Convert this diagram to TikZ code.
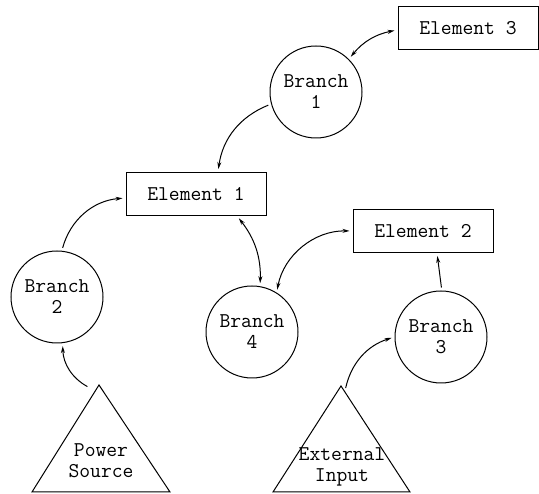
\documentclass[tikz,border=0pt]{standalone}
\usetikzlibrary{arrows.meta}
\tikzset{
  txt/.style={font=\ttfamily\fontsize{21}{21}\selectfont, align=center},
  elem/.style={txt, draw, line width=1pt, minimum width=140pt, minimum height=43pt},
  branch/.style={txt, draw, circle, line width=1pt, minimum size=92pt, inner sep=0pt},
  link/.style={line width=1pt, -{Stealth[length=7pt,width=4pt]}, shorten >=3pt, shorten <=3pt},
  dlink/.style={link, {Stealth[length=7pt,width=4pt]}-{Stealth[length=7pt,width=4pt]}},
}
\begin{document}
\begin{tikzpicture}[x=1pt,y=1pt]
	\useasboundingbox (0,0) rectangle (539,494);
	
	% elements
	\node[elem] (el3) at (468,466) {Element 3};
	\node[elem] (el1) at (196,300) {Element 1};
	\node[elem] (el2) at (423,263) {Element 2};
	
	% branches
	\node[branch] (br1) at (316,402) {Branch\\1};
	\node[branch] (br2) at (57,197) {Branch\\2};
	\node[branch] (br4) at (252,162) {Branch\\4};
	\node[branch] (br3) at (441,157) {Branch\\3};
	
	% sources
	\draw[line width=1pt] (99,109) -- (170,2) -- (32,2) -- cycle;
	\coordinate (psTop) at (99,109);
	\node[txt] (ps) at (101,33) {Power\\Source};
	
	\draw[line width=1pt] (341,108) -- (410,2) -- (273,2) -- cycle;
	\coordinate (eiTop) at (341,108);
	\node[txt] (ei) at (342,27) {External\\Input};
	
	% connectors
	\draw[dlink] ([yshift=-2pt]el3.west) to[bend right=20] (br1.45);
	\draw[link] (br1.195) to[bend right=30] ([xshift=22pt]el1.north);
	\draw[link] (br2.84) to[bend left=35] ([yshift=-4pt]el1.west);
	\draw[dlink] ([xshift=41pt]el1.south) to[bend left=20] (br4.80);
	\draw[dlink] (br4.58) to[bend left=40] (el2.west);
	\draw[link] (br3.89) -- ([xshift=14pt]el2.south);
	\draw[link] ([shift={(4pt,-5pt)}]eiTop) to[bend left=30] (br3.180);
	\draw[link] ([shift={(-9pt,-3pt)}]psTop) to[bend left=30] (br2.277);
\end{tikzpicture}
\end{document}
